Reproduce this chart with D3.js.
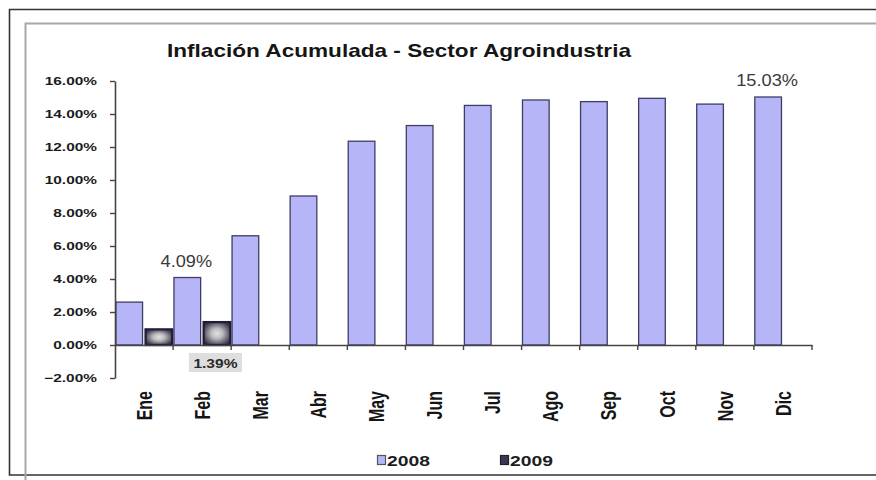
<!DOCTYPE html>
<html>
<head>
<meta charset="utf-8">
<script src="https://d3js.org/d3.v7.min.js"></script>
<style>
  html, body { margin: 0; background: #fff; overflow: hidden; }
  svg { display: block; overflow: hidden; font-family: Arial, "Liberation Sans", sans-serif; }
</style>
</head>
<body>
<svg id="chart" width="876" height="480"></svg>
<script>
// chart data
const months = ['Ene', 'Feb', 'Mar', 'Abr', 'May', 'Jun', 'Jul', 'Ago', 'Sep', 'Oct', 'Nov', 'Dic'];
const seriesNames = ['2008', '2009'];
const values2008 = [2.6, 4.09, 6.62, 9.03, 12.35, 13.3, 14.52, 14.85, 14.75, 14.95, 14.6, 15.03];
const values2009 = [0.95, 1.39];
const yTicks = [-2, 0, 2, 4, 6, 8, 10, 12, 14, 16];
const titleText = 'Inflación Acumulada - Sector Agroindustria';
// data labels shown on the chart: [series, month]
const labelled = [['2008', 'Feb'], ['2008', 'Dic'], ['2009', 'Feb']];

const colors = { '2008': '#b5b5f7', '2009': 'url(#grad2009)' };
const strokes = { '2008': '#3d3d66', '2009': '#221c38' };

const rows = [];
seriesNames.forEach(s => {
  const vals = s == '2008' ? values2008 : values2009;
  vals.forEach((v, i) => rows.push({ series: s, month: months[i], value: v }));
});

const svg = d3.select('#chart');
const fmt = v => d3.format('.2f')(v) + '%';

// gradient for the 2009 bars
const grad = svg.append('defs').append('radialGradient')
  .attr('id', 'grad2009')
  .attr('cx', '50%').attr('cy', '50%').attr('r', '62%');
grad.append('stop').attr('offset', '0%').attr('stop-color', '#e2e2e2');
grad.append('stop').attr('offset', '35%').attr('stop-color', '#bcbcbc');
grad.append('stop').attr('offset', '75%').attr('stop-color', '#5c5a6a');
grad.append('stop').attr('offset', '100%').attr('stop-color', '#2a2838');

// frames (right side falls outside the picture)
svg.append('path')
  .attr('d', 'M880,9.5 H9.5 V475 H880')
  .attr('fill', 'none').attr('stroke', '#333').attr('stroke-width', 1.6);
svg.append('path')
  .attr('d', 'M25.5,480 V23.5 H880')
  .attr('fill', 'none').attr('stroke', '#a8a8a8').attr('stroke-width', 2);

// scales
const x0 = d3.scaleBand().domain(months).range([115, 812]).padding(0);
const x1 = d3.scaleBand().domain(seriesNames).range([0, x0.bandwidth()])
  .paddingInner(0.1).paddingOuter(0.03);
const y = d3.scaleLinear().domain([-2, 16]).range([378, 81]);

// title
svg.append('text')
  .attr('x', 399).attr('y', 57)
  .attr('text-anchor', 'middle')
  .attr('font-size', 18.5).attr('font-weight', 'bold').attr('fill', '#151515')
  .attr('textLength', 464).attr('lengthAdjust', 'spacingAndGlyphs')
  .text(titleText);

// bars
svg.append('g').selectAll('rect')
  .data(rows)
  .join('rect')
    .attr('x', d => x0(d.month) + x1(d.series))
    .attr('y', d => y(d.value))
    .attr('width', x1.bandwidth())
    .attr('height', d => y(0) - y(d.value))
    .attr('fill', d => colors[d.series])
    .attr('stroke', d => strokes[d.series])
    .attr('stroke-width', d => d.series == '2009' ? 2.2 : 1.3);

// y axis
const yAxis = svg.append('g')
  .attr('transform', 'translate(115,0)')
  .call(d3.axisLeft(y).tickValues(yTicks).tickSize(5).tickSizeOuter(0).tickFormat(fmt));
yAxis.select('.domain').attr('stroke', '#444').attr('stroke-width', 1.6);
yAxis.selectAll('.tick line').attr('stroke', '#444').attr('stroke-width', 1.4);
yAxis.selectAll('.tick text')
  .attr('x', -12.9)
  .attr('transform', 'scale(1.4,1)')
  .attr('font-size', 11).attr('font-weight', 'bold').attr('fill', '#1a1a1a')
  .attr('font-family', 'Arial, "Liberation Sans", sans-serif');

// x axis (labels from band scale, ticks at category borders)
const xAxis = svg.append('g')
  .attr('transform', 'translate(0,' + y(0) + ')')
  .call(d3.axisBottom(x0).tickSize(0).tickSizeOuter(0));
xAxis.select('.domain').attr('stroke', '#444').attr('stroke-width', 1.6);
xAxis.selectAll('.tick text')
  .attr('x', 0).attr('y', 0).attr('dy', '0.36em')
  .attr('text-anchor', 'end')
  .attr('transform', 'translate(0,46) scale(1.35,1) rotate(-90)')
  .attr('font-size', 16).attr('font-weight', 'bold').attr('fill', '#151515')
  .attr('font-family', 'Arial, "Liberation Sans", sans-serif');
xAxis.selectAll('.border-tick')
  .data(months.slice(1).concat(['end']))
  .join('line')
    .attr('class', 'border-tick')
    .attr('x1', d => d == 'end' ? x0.range()[1] : x0(d))
    .attr('x2', d => d == 'end' ? x0.range()[1] : x0(d))
    .attr('y1', 0).attr('y2', 5)
    .attr('stroke', '#444').attr('stroke-width', 1.4);

// data labels
labelled.forEach(([s, m]) => {
  const d = rows.find(r => r.series == s && r.month == m);
  const cx = x0(d.month) + x1(d.series) + x1.bandwidth() / 2;
  if (s == '2008') {
    const t = fmt(d.value);
    svg.append('text')
      .attr('x', cx - 1).attr('y', y(d.value) - 11)
      .attr('text-anchor', 'middle')
      .attr('font-size', 16).attr('fill', '#3a3a3a')
      .attr('textLength', t.length * 10.3).attr('lengthAdjust', 'spacingAndGlyphs')
      .text(t);
  } else {
    svg.append('rect')
      .attr('x', cx - 28).attr('y', y(0) + 8)
      .attr('width', 53).attr('height', 19)
      .attr('fill', '#dedede');
    svg.append('text')
      .attr('x', cx - 1.5).attr('y', y(0) + 23)
      .attr('text-anchor', 'middle')
      .attr('font-size', 12.5).attr('font-weight', 'bold').attr('fill', '#2a2a2a')
      .attr('textLength', 44).attr('lengthAdjust', 'spacingAndGlyphs')
      .text(fmt(d.value));
  }
});

// legend
const legend = svg.append('g').selectAll('g')
  .data(seriesNames)
  .join('g')
    .attr('transform', (d, i) => 'translate(' + (377 + i * 123) + ',455)');
legend.append('rect')
  .attr('x', 0.5).attr('y', 0.5).attr('width', 8).attr('height', 9)
  .attr('fill', d => d == '2008' ? colors[d] : '#3a3850')
  .attr('stroke', d => d == '2008' ? '#555' : '#231d38').attr('stroke-width', 1.2);
legend.append('text')
  .attr('x', 10).attr('y', 11)
  .attr('font-size', 15).attr('font-weight', 'bold').attr('fill', '#1e1e1e')
  .attr('textLength', 43).attr('lengthAdjust', 'spacingAndGlyphs')
  .text(d => d);
</script>
</body>
</html>
